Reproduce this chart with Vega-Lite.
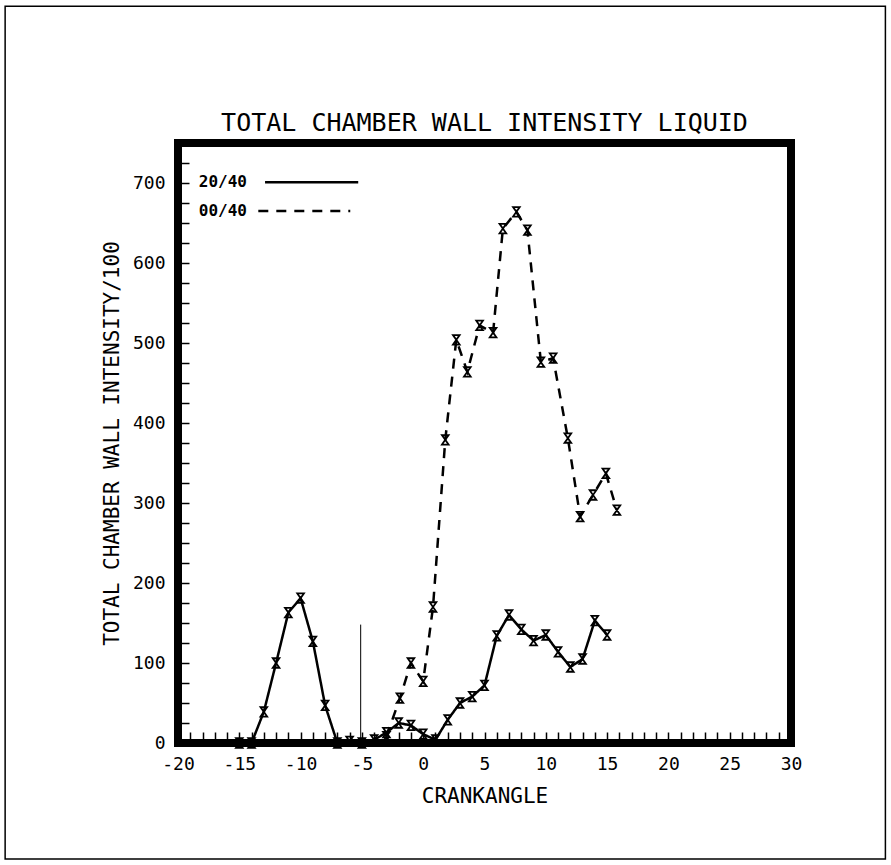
{
  "$schema": "https://vega.github.io/schema/vega-lite/v6.json",
  "width": 613,
  "height": 600,
  "autosize": {"type": "none"},
  "padding": {"left": 178, "top": 143, "right": 100, "bottom": 122},
  "background": "white",
  "config": {
    "view": {"stroke": "black", "strokeWidth": 8},
    "font": "DejaVu Sans Mono",
    "axis": {
      "labelFont": "DejaVu Sans Mono",
      "titleFont": "DejaVu Sans Mono",
      "labelColor": "black",
      "titleColor": "black",
      "tickColor": "black",
      "titleFontWeight": "normal",
      "grid": false,
      "domain": false,
      "labelOverlap": false,
      "labelFlush": false
    }
  },
  "title": {
    "text": "TOTAL CHAMBER WALL INTENSITY LIQUID",
    "font": "DejaVu Sans Mono",
    "fontSize": 25,
    "fontWeight": "normal",
    "color": "black",
    "anchor": "middle",
    "offset": -131
  },
  "datasets": {
    "liquid": [
      {"series": "20/40", "crank": -15, "intensity": 0},
      {"series": "20/40", "crank": -14, "intensity": 0},
      {"series": "20/40", "crank": -13, "intensity": 39},
      {"series": "20/40", "crank": -12, "intensity": 100},
      {"series": "20/40", "crank": -11, "intensity": 163},
      {"series": "20/40", "crank": -10, "intensity": 181},
      {"series": "20/40", "crank": -9, "intensity": 127},
      {"series": "20/40", "crank": -8, "intensity": 47},
      {"series": "20/40", "crank": -7, "intensity": 0},
      {"series": "20/40", "crank": -6, "intensity": 2},
      {"series": "20/40", "crank": -5, "intensity": 0},
      {"series": "20/40", "crank": -4, "intensity": 4},
      {"series": "20/40", "crank": -3, "intensity": 13},
      {"series": "20/40", "crank": -2, "intensity": 25},
      {"series": "20/40", "crank": -1, "intensity": 22},
      {"series": "20/40", "crank": 0, "intensity": 11},
      {"series": "20/40", "crank": 1, "intensity": 4},
      {"series": "20/40", "crank": 2, "intensity": 29},
      {"series": "20/40", "crank": 3, "intensity": 50},
      {"series": "20/40", "crank": 4, "intensity": 58},
      {"series": "20/40", "crank": 5, "intensity": 72},
      {"series": "20/40", "crank": 6, "intensity": 134},
      {"series": "20/40", "crank": 7, "intensity": 160},
      {"series": "20/40", "crank": 8, "intensity": 142},
      {"series": "20/40", "crank": 9, "intensity": 128},
      {"series": "20/40", "crank": 10, "intensity": 135},
      {"series": "20/40", "crank": 11, "intensity": 114},
      {"series": "20/40", "crank": 12, "intensity": 95},
      {"series": "20/40", "crank": 13, "intensity": 105},
      {"series": "20/40", "crank": 14, "intensity": 153},
      {"series": "20/40", "crank": 15, "intensity": 135},
      {"series": "00/40", "crank": -3, "intensity": 8},
      {"series": "00/40", "crank": -1.9, "intensity": 56},
      {"series": "00/40", "crank": -1.0, "intensity": 100},
      {"series": "00/40", "crank": 0.0, "intensity": 77},
      {"series": "00/40", "crank": 0.8, "intensity": 170},
      {"series": "00/40", "crank": 1.8, "intensity": 379},
      {"series": "00/40", "crank": 2.7, "intensity": 504},
      {"series": "00/40", "crank": 3.6, "intensity": 464},
      {"series": "00/40", "crank": 4.6, "intensity": 522},
      {"series": "00/40", "crank": 5.7, "intensity": 513},
      {"series": "00/40", "crank": 6.5, "intensity": 643},
      {"series": "00/40", "crank": 7.6, "intensity": 664},
      {"series": "00/40", "crank": 8.5, "intensity": 641},
      {"series": "00/40", "crank": 9.6, "intensity": 476},
      {"series": "00/40", "crank": 10.6, "intensity": 481},
      {"series": "00/40", "crank": 11.8, "intensity": 381},
      {"series": "00/40", "crank": 12.8, "intensity": 283},
      {"series": "00/40", "crank": 13.85, "intensity": 310},
      {"series": "00/40", "crank": 14.9, "intensity": 337},
      {"series": "00/40", "crank": 15.8, "intensity": 291}
    ]
  },
  "layer": [
    {
      "data": {"name": "liquid"},
      "mark": {"type": "line", "color": "black", "strokeWidth": 2.5},
      "encoding": {
        "x": {
          "field": "crank",
          "type": "quantitative",
          "scale": {"domain": [-20, 30], "nice": false, "zero": false},
          "axis": {
            "title": "CRANKANGLE",
            "titleFontSize": 21,
            "titlePadding": 12,
            "values": [-20,-19,-18,-17,-16,-15,-14,-13,-12,-11,-10,-9,-8,-7,-6,-5,-4,-3,-2,-1,0,1,2,3,4,5,6,7,8,9,10,11,12,13,14,15,16,17,18,19,20,21,22,23,24,25,26,27,28,29,30],
            "tickCount": 200,
            "labelExpr": "datum.value % 5 === 0 ? '' + datum.value : ''",
            "labelOverlap": false,
            "labelFlush": false,
            "labelFontSize": 18,
            "labelPadding": 23,
            "tickSize": -11,
            "tickWidth": 1.5
          }
        },
        "y": {
          "field": "intensity",
          "type": "quantitative",
          "scale": {"domain": [0, 750], "nice": false},
          "axis": {
            "title": "TOTAL CHAMBER WALL INTENSITY/100",
            "titleFontSize": 21,
            "titlePadding": 10,
            "values": [0,25,50,75,100,125,150,175,200,225,250,275,300,325,350,375,400,425,450,475,500,525,550,575,600,625,650,675,700,725,750],
            "tickCount": 200,
            "labelExpr": "datum.value % 100 === 0 ? '' + datum.value : ''",
            "labelOverlap": false,
            "labelFlush": false,
            "labelFontSize": 18,
            "labelPadding": 24,
            "labelBaseline": "middle",
            "tickSize": -11,
            "tickWidth": 1.5
          }
        },
        "strokeDash": {
          "field": "series",
          "type": "nominal",
          "scale": {"domain": ["20/40", "00/40"], "range": [[1, 0], [10, 8]]},
          "legend": null
        }
      }
    },
    {
      "data": {"name": "liquid"},
      "mark": {
        "type": "point",
        "shape": "M-0.7,-1L0.7,-1L-0.7,1L0.7,1Z",
        "filled": false,
        "stroke": "black",
        "strokeWidth": 1.8,
        "size": 90,
        "opacity": 1
      },
      "encoding": {
        "x": {"field": "crank", "type": "quantitative"},
        "y": {"field": "intensity", "type": "quantitative"}
      }
    },
    {
      "data": {"values": [{}]},
      "mark": {"type": "rule", "color": "black", "strokeWidth": 1},
      "encoding": {
        "x": {"datum": -5.1, "type": "quantitative"},
        "y": {"datum": 0, "type": "quantitative"},
        "y2": {"datum": 148}
      }
    },
    {
      "data": {"values": [{"label": "20/40"}]},
      "mark": {"type": "text", "align": "left", "baseline": "middle", "fontSize": 16, "fontWeight": "bold", "font": "DejaVu Sans Mono", "color": "black"},
      "encoding": {
        "x": {"datum": -18.3, "type": "quantitative"},
        "y": {"datum": 701, "type": "quantitative"},
        "text": {"field": "label"}
      }
    },
    {
      "data": {"values": [{"label": "00/40"}]},
      "mark": {"type": "text", "align": "left", "baseline": "middle", "fontSize": 16, "fontWeight": "bold", "font": "DejaVu Sans Mono", "color": "black"},
      "encoding": {
        "x": {"datum": -18.3, "type": "quantitative"},
        "y": {"datum": 665, "type": "quantitative"},
        "text": {"field": "label"}
      }
    },
    {
      "data": {"values": [{}]},
      "mark": {"type": "rule", "color": "black", "strokeWidth": 2.5},
      "encoding": {
        "x": {"datum": -12.9, "type": "quantitative"},
        "x2": {"datum": -5.3},
        "y": {"datum": 701, "type": "quantitative"}
      }
    },
    {
      "data": {"values": [{}]},
      "mark": {"type": "rule", "color": "black", "strokeWidth": 2.5, "strokeDash": [10, 8]},
      "encoding": {
        "x": {"datum": -13.45, "type": "quantitative"},
        "x2": {"datum": -5.95},
        "y": {"datum": 665, "type": "quantitative"}
      }
    },
    {
      "data": {"values": [{}]},
      "mark": {"type": "rect", "filled": false, "stroke": "black", "strokeWidth": 1.5},
      "encoding": {
        "x": {"datum": -34.1, "type": "quantitative"},
        "x2": {"datum": 37.7},
        "y": {"datum": 921, "type": "quantitative"},
        "y2": {"datum": -145}
      }
    }
  ]
}
